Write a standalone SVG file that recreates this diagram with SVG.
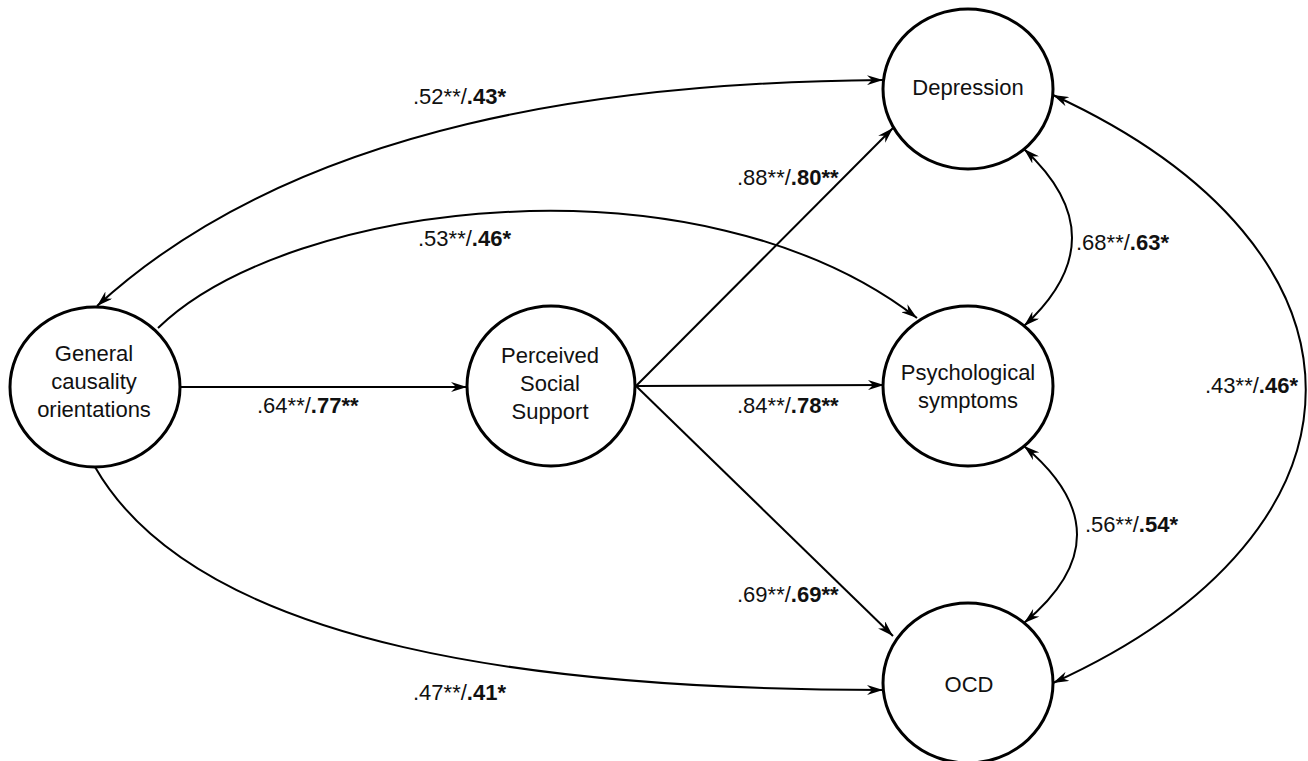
<svg xmlns="http://www.w3.org/2000/svg" width="1308" height="761" viewBox="0 0 1308 761">
<style>
.node{fill:#fff;stroke:#000;stroke-width:3}
.t{font-family:"Liberation Sans",Arial,sans-serif;font-size:22px;fill:#111;text-anchor:middle}
.l{font-family:"Liberation Sans",Arial,sans-serif;font-size:22px;fill:#111}
.b{font-weight:bold}
.c{fill:none;stroke:#000;stroke-width:2}
</style>
<defs>
<marker id="ah" viewBox="0 0 16 10" refX="16" refY="5" markerWidth="16" markerHeight="10" markerUnits="userSpaceOnUse" orient="auto-start-reverse">
<path d="M0,0 L16,5 L0,10 L5,5 z" fill="#000"/>
</marker>
</defs>
<rect width="1308" height="761" fill="#fff"/>
<g id="connectors">
<path class="c" d="M883,80 C620,82 300,120 97,306" marker-start="url(#ah)" marker-end="url(#ah)"/>
<path class="c" d="M158,328 C290,200 700,150 917,318" marker-end="url(#ah)"/>
<path class="c" d="M95,467 C200,650 550,690 883,690" marker-end="url(#ah)"/>
<path class="c" d="M181,387 L467,387" marker-end="url(#ah)"/>
<path class="c" d="M636,386 L893,128" marker-end="url(#ah)"/>
<path class="c" d="M636,386 L884,385" marker-end="url(#ah)"/>
<path class="c" d="M636,386 L893,636" marker-end="url(#ah)"/>
<path class="c" d="M1024,149 Q1120,238 1024,326" marker-start="url(#ah)" marker-end="url(#ah)"/>
<path class="c" d="M1024,446 Q1130,535 1024,623" marker-start="url(#ah)" marker-end="url(#ah)"/>
<path class="c" d="M1053,95 C1390,250 1390,530 1053,683" marker-start="url(#ah)" marker-end="url(#ah)"/>
</g>
<g id="labels">
<text class="l" x="413" y="104">.52**/<tspan class="b">.43*</tspan></text>
<text class="l" x="418" y="246">.53**/<tspan class="b">.46*</tspan></text>
<text class="l" x="737" y="185">.88**/<tspan class="b">.80**</tspan></text>
<text class="l" x="257" y="413">.64**/<tspan class="b">.77**</tspan></text>
<text class="l" x="737" y="413">.84**/<tspan class="b">.78**</tspan></text>
<text class="l" x="737" y="602">.69**/<tspan class="b">.69**</tspan></text>
<text class="l" x="413" y="700">.47**/<tspan class="b">.41*</tspan></text>
<text class="l" x="1076" y="250">.68**/<tspan class="b">.63*</tspan></text>
<text class="l" x="1085" y="532">.56**/<tspan class="b">.54*</tspan></text>
<text class="l" x="1205" y="393">.43**/<tspan class="b">.46*</tspan></text>
</g>
<g id="gco">
<ellipse class="node" cx="95" cy="387" rx="85" ry="80"/>
<text class="t" x="94" y="361">General</text>
<text class="t" x="94" y="389">causality</text>
<text class="t" x="94" y="417">orientations</text>
</g>
<g id="pss">
<ellipse class="node" cx="551" cy="386" rx="84" ry="80"/>
<text class="t" x="550" y="363">Perceived</text>
<text class="t" x="550" y="391">Social</text>
<text class="t" x="550" y="419">Support</text>
</g>
<g id="depression">
<ellipse class="node" cx="968" cy="89" rx="85" ry="80"/>
<text class="t" x="968" y="95">Depression</text>
</g>
<g id="psych">
<ellipse class="node" cx="968" cy="386" rx="85" ry="80"/>
<text class="t" x="968" y="380">Psychological</text>
<text class="t" x="968" y="408">symptoms</text>
</g>
<g id="ocd">
<ellipse class="node" cx="968" cy="683" rx="85" ry="80"/>
<text class="t" x="969" y="692">OCD</text>
</g>
</svg>
